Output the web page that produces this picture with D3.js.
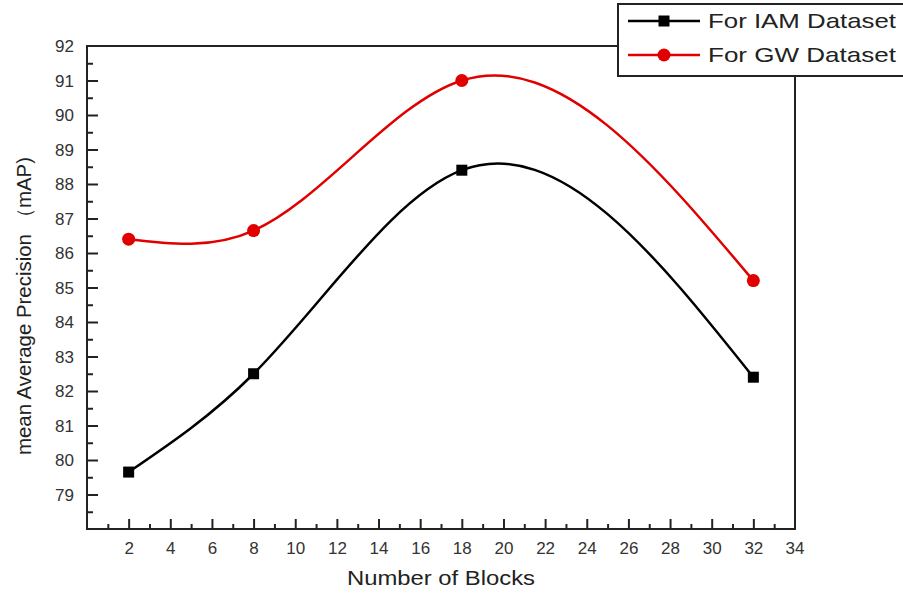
<!DOCTYPE html>
<html>
<head>
<meta charset="utf-8">
<script src="https://cdn.jsdelivr.net/npm/d3@7"></script>
<style>
  body { margin: 0; background: #fff; }
  svg { display: block; font-family: "Liberation Sans", Arial, sans-serif; }
</style>
</head>
<body>
<div id="chart"></div>
<script>
// data
const blocks = [2, 8, 18, 32]
const iam = [79.65, 82.5, 88.4, 82.4]
const gw = [86.4, 86.65, 91.0, 85.2]
const xTicks = d3.range(2, 35, 2)
const yTicks = d3.range(79, 93, 1)

const W = 903, H = 594
const m = { left: 87, right: 795, top: 46, bottom: 529 }

const svg = d3.select('#chart').append('svg')
    .attr('width', W).attr('height', H)

const x = d3.scaleLinear().domain([0, 34]).range([m.left, m.right])
const y = d3.scaleLinear().domain([78, 92]).range([m.bottom, m.top])

// natural cubic spline with y as a function of x (like Origin's "Spline" connect)
function curveSplineX(context) {
    let xs, ys
    return {
        lineStart() { xs = []; ys = [] },
        lineEnd() {
            const n = xs.length - 1
            if (n < 1) return
            const h = d3.range(n).map(i => xs[i + 1] - xs[i])
            // solve tridiagonal system for second derivatives, M0 = Mn = 0
            const M = new Array(n + 1).fill(0)
            if (n > 1) {
                const a = [], b = [], c = [], r = []
                for (let i = 1; i < n; i++) {
                    a.push(h[i - 1]); b.push(2 * (h[i - 1] + h[i])); c.push(h[i])
                    r.push(6 * ((ys[i + 1] - ys[i]) / h[i] - (ys[i] - ys[i - 1]) / h[i - 1]))
                }
                const k = r.length
                for (let i = 1; i < k; i++) {
                    const w = a[i] / b[i - 1]
                    b[i] -= w * c[i - 1]; r[i] -= w * r[i - 1]
                }
                M[k] = r[k - 1] / b[k - 1]
                for (let i = k - 2; i >= 0; i--) M[i + 1] = (r[i] - c[i] * M[i + 2]) / b[i]
            }
            context.moveTo(xs[0], ys[0])
            for (let i = 0; i < n; i++) {
                const s = (ys[i + 1] - ys[i]) / h[i]
                const d0 = s - h[i] * (2 * M[i] + M[i + 1]) / 6
                const d1 = s + h[i] * (M[i] + 2 * M[i + 1]) / 6
                context.bezierCurveTo(
                    xs[i] + h[i] / 3, ys[i] + d0 * h[i] / 3,
                    xs[i + 1] - h[i] / 3, ys[i + 1] - d1 * h[i] / 3,
                    xs[i + 1], ys[i + 1])
            }
        },
        areaStart() {}, areaEnd() {},
        point(px, py) { xs.push(px); ys.push(py) }
    }
}

// frame
svg.append('rect')
    .attr('x', m.left).attr('y', m.top)
    .attr('width', m.right - m.left).attr('height', m.bottom - m.top)
    .attr('fill', 'none').attr('stroke', '#222').attr('stroke-width', 2)

// x axis, ticks pointing inward
const xAxis = svg.append('g').attr('transform', `translate(0,${m.bottom})`)
xAxis.call(d3.axisBottom(x).tickValues(d3.range(1, 34, 1)).tickSize(-5).tickFormat(''))
xAxis.selectAll('.tick line').attr('stroke', '#222').attr('stroke-width', 2)
    .attr('y2', d => d % 2 === 0 ? -10 : -5)
xAxis.select('.domain').remove()
xAxis.selectAll('.tick').filter(d => xTicks.includes(d)).append('text')
    .attr('y', 25).attr('fill', '#333').attr('text-anchor', 'middle')
    .style('font-size', '17px').text(d => d)
xAxis.append('g').attr('transform', `translate(${x(34)},0)`)
    .append('text').attr('y', 25).attr('fill', '#333').attr('text-anchor', 'middle')
    .style('font-size', '17px').text(34)

// y axis
const yAxis = svg.append('g').attr('transform', `translate(${m.left},0)`)
yAxis.call(d3.axisLeft(y).tickValues(d3.range(78.5, 92, 0.5)).tickSize(-6).tickFormat(''))
yAxis.select('.domain').remove()
yAxis.selectAll('.tick line').attr('stroke', '#222').attr('stroke-width', 2)
    .attr('x2', d => Number.isInteger(d) ? 11 : 6)
yAxis.selectAll('.tick').filter(d => yTicks.includes(d)).append('text')
    .attr('x', -13).attr('dy', '0.35em').attr('fill', '#333').attr('text-anchor', 'end')
    .style('font-size', '17px').text(d => d)
yAxis.append('g').attr('transform', `translate(0,${y(92)})`)
    .append('text').attr('x', -13).attr('dy', '0.35em').attr('fill', '#333')
    .attr('text-anchor', 'end').style('font-size', '17px').text(92)

// axis titles
svg.append('text')
    .attr('x', 441).attr('y', 585)
    .attr('text-anchor', 'middle').attr('fill', '#222')
    .attr('textLength', 188).attr('lengthAdjust', 'spacingAndGlyphs')
    .style('font-size', '20px').text('Number of Blocks')
svg.append('text')
    .attr('transform', 'translate(31,306) rotate(-90)')
    .attr('text-anchor', 'middle').attr('fill', '#222')
    .attr('textLength', 298).attr('lengthAdjust', 'spacingAndGlyphs')
    .style('font-size', '20px').text('mean Average Precision （mAP)')

// series
const series = [
    { name: 'For IAM Dataset', values: iam, color: '#000', shape: 'square' },
    { name: 'For GW Dataset', values: gw, color: '#e00000', shape: 'circle' }
]
const line = d3.line().curve(curveSplineX)
    .x(d => x(d[0])).y(d => y(d[1]))

function marker(g, s, cx, cy) {
    if (s.shape === 'square')
        g.append('rect').attr('x', cx - 5.5).attr('y', cy - 5.5)
            .attr('width', 11).attr('height', 11).attr('fill', s.color)
    else
        g.append('circle').attr('cx', cx).attr('cy', cy).attr('r', 6.5).attr('fill', s.color)
}

series.forEach(s => {
    const pts = blocks.map((b, i) => [b, s.values[i]])
    svg.append('path').datum(pts)
        .attr('d', line).attr('fill', 'none')
        .attr('stroke', s.color).attr('stroke-width', 2.5)
    const g = svg.append('g')
    pts.forEach(p => marker(g, s, x(p[0]), y(p[1])))
})

// legend
const lg = svg.append('g')
lg.append('rect').attr('x', 618).attr('y', 4).attr('width', 300).attr('height', 72)
    .attr('fill', '#fff').attr('stroke', '#222').attr('stroke-width', 2)
series.forEach((s, i) => {
    const cy = 21 + i * 34
    lg.append('line').attr('x1', 628).attr('x2', 700).attr('y1', cy).attr('y2', cy)
        .attr('stroke', s.color).attr('stroke-width', 2.5)
    marker(lg, s, 664, cy)
    lg.append('text').attr('x', 708).attr('y', cy).attr('dy', '0.35em')
        .attr('fill', '#222').attr('textLength', 188).attr('lengthAdjust', 'spacingAndGlyphs')
        .style('font-size', '21px').text(s.name)
})
</script>
</body>
</html>
